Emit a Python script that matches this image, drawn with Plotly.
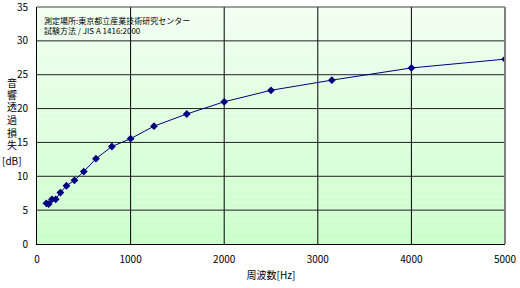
import plotly.graph_objects as go

freq = [100, 125, 160, 200, 250, 315, 400, 500, 630, 800, 1000, 1250, 1600, 2000, 2500, 3150, 4000, 5000]
loss = [6.0, 5.9, 6.6, 6.6, 7.6, 8.6, 9.4, 10.7, 12.6, 14.4, 15.55, 17.4, 19.2, 21.0, 22.7, 24.2, 26.0, 27.3]

x_ticks = [0, 1000, 2000, 3000, 4000, 5000]
y_ticks = [0, 5, 10, 15, 20, 25, 30, 35]
y_title_chars = ["音", "響", "透", "過", "損", "失", "[dB]"]

FONT = "Noto Sans CJK JP"
W, H = 520, 288
ML, MR, MT, MB = 37, 15, 7, 44
PW, PH = W - ML - MR, H - MT - MB

fig = go.Figure()
fig.add_trace(go.Scatter(
    x=freq, y=loss, mode="lines+markers",
    line=dict(color="#000080", width=1),
    marker=dict(symbol="diamond", size=6, color="#000080"),
    showlegend=False, hoverinfo="skip",
))

# gradient background
n = 40
shapes = []
top = (242, 255, 242)
bot = (204, 255, 204)
for i in range(n):
    t = i / (n - 1)
    c = tuple(round(top[k] + (bot[k] - top[k]) * t) for k in range(3))
    shapes.append(dict(type="rect", xref="x domain", yref="y domain",
                       x0=0, x1=1, y0=1 - (i + 1) / n, y1=1 - i / n,
                       fillcolor="rgb(%d,%d,%d)" % c, line=dict(width=0), layer="below"))
# grid lines drawn over the gradient
for v in x_ticks[1:-1]:
    shapes.append(dict(type="line", xref="x", yref="y domain", x0=v, x1=v, y0=0, y1=1,
                       line=dict(color="black", width=1), layer="below"))
for v in y_ticks[1:-1]:
    shapes.append(dict(type="line", xref="x domain", yref="y", x0=0, x1=1, y0=v, y1=v,
                       line=dict(color="#202020", width=1), layer="below"))
# borders
shapes.append(dict(type="line", xref="x domain", yref="y domain", x0=0, x1=1, y0=1, y1=1,
                   line=dict(color="#404040", width=1)))
shapes.append(dict(type="line", xref="x domain", yref="y domain", x0=1, x1=1, y0=0, y1=1,
                   line=dict(color="#808080", width=2)))

annotations = [
    dict(text="測定場所:東京都立産業技術研究センター<br>試験方法 / JIS A 1416:2000",
         xref="paper", yref="paper", x=0.01, y=0.975, xanchor="left", yanchor="top",
         align="left", showarrow=False, font=dict(size=8, family=FONT)),
]
# vertical y-axis title, one glyph per line
px_x = 12
for i, ch in enumerate(y_title_chars):
    py = 82 + 12.5 * i if i < 6 else 160
    annotations.append(dict(
        text=ch, xref="paper", yref="paper",
        x=(px_x - ML) / PW, y=(H - MB - py) / PH,
        xanchor="center", yanchor="middle", showarrow=False,
        font=dict(size=10, family=FONT)))

fig.update_layout(
    width=W, height=H,
    margin=dict(l=ML, r=MR, t=MT, b=MB),
    paper_bgcolor="white", plot_bgcolor="white",
    font=dict(family=FONT, size=10, color="black"),
    shapes=shapes,
    xaxis=dict(range=[0, 5000], tickvals=x_ticks, ticktext=[str(v) for v in x_ticks],
               showgrid=False, zeroline=False, automargin=False,
               showline=True, linecolor="black", linewidth=1, ticks="",
               tickfont=dict(size=10), ticklabelstandoff=6, ticklabeloverflow="allow",
               title=dict(text="周波数[Hz]", font=dict(size=10), standoff=6)),
    yaxis=dict(range=[0, 35], tickvals=y_ticks, ticktext=[str(v) for v in y_ticks],
               showgrid=False, zeroline=False, automargin=False,
               showline=True, linecolor="black", linewidth=1, ticks="",
               tickfont=dict(size=10), ticklabelstandoff=6, ticklabeloverflow="allow"),
    annotations=annotations,
)

fig.write_html("out.html")
